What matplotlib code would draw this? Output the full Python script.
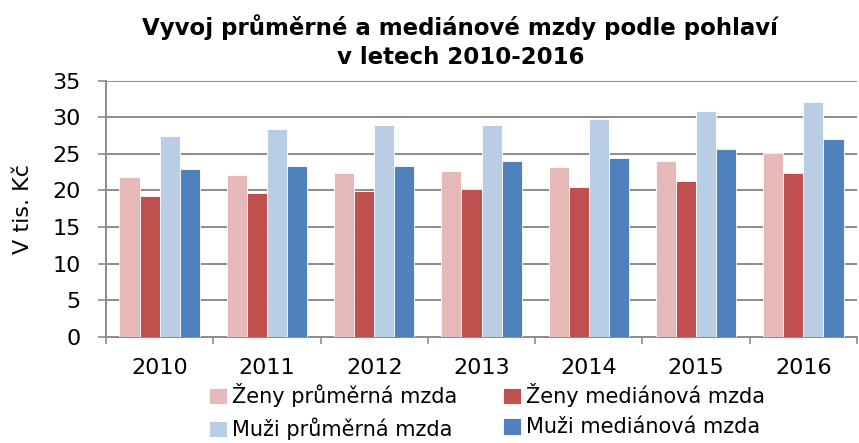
import numpy as np
import matplotlib.pyplot as plt

plt.rcParams['font.family'] = ['DejaVu Sans']

years = ['2010', '2011', '2012', '2013', '2014', '2015', '2016']
zeny_prumer = [21.8, 22.1, 22.4, 22.6, 23.2, 24.0, 25.1]
zeny_median = [19.3, 19.6, 19.9, 20.2, 20.5, 21.3, 22.4]
muzi_prumer = [27.5, 28.4, 28.9, 28.9, 29.7, 30.8, 32.1]
muzi_median = [22.9, 23.4, 23.4, 24.0, 24.5, 25.6, 27.0]

series = [
    ('Ženy průměrná mzda', zeny_prumer, '#E6B9B8'),
    ('Ženy mediánová mzda', zeny_median, '#C0504D'),
    ('Muži průměrná mzda', muzi_prumer, '#B9CDE5'),
    ('Muži mediánová mzda', muzi_median, '#4F81BD'),
]

fig = plt.figure(figsize=(8.59, 4.43), dpi=100)
ax = fig.add_axes([106 / 859, 1 - 336.7 / 443, (857 - 106) / 859, (336.7 - 80.7) / 443])

x = np.arange(len(years))
w = 0.1875
bars = []
for i, (name, vals, col) in enumerate(series):
    b = ax.bar(x + (i - 1.5) * w, vals, w, color=col, edgecolor='white', linewidth=0.6,
               label=name, zorder=3)
    bars.append(b)

ax.set_xlim(-0.5, len(years) - 0.5)
ax.set_ylim(0, 35)
ax.set_yticks(range(0, 36, 5))
ax.yaxis.grid(True, color='#8c8c8c', linewidth=1.4, zorder=0)
ax.set_xticks(x)
ax.set_xticklabels(years)
ax.set_xticks(np.arange(-0.5, len(years), 1), minor=True)
ax.tick_params(axis='x', which='major', length=0, labelsize=16, pad=15)
ax.tick_params(axis='x', which='minor', length=5, color='#8c8c8c', width=1.2)
ax.tick_params(axis='y', labelsize=16, length=6, color='#8c8c8c', width=1.2, pad=12)
for s in ['top', 'right']:
    ax.spines[s].set_visible(False)
for s in ['left', 'bottom']:
    ax.spines[s].set_color('#8c8c8c')
    ax.spines[s].set_linewidth(1.4)
ax.set_ylabel('V tis. Kč', fontsize=16, labelpad=14)

fig.text(0.536, 0.906, 'Vyvoj průměrné a mediánové mzdy podle pohlaví\nv letech 2010-2016',
         ha='center', va='center', fontsize=16.5, fontweight='bold', linespacing=1.3)

order = [0, 2, 1, 3]
fig.legend([bars[i] for i in order], [series[i][0] for i in order],
           loc='center', bbox_to_anchor=(0.567, 0.071), ncol=2, frameon=False,
           fontsize=15, handlelength=0.85, handleheight=0.85, handletextpad=0.25,
           columnspacing=2.2, labelspacing=0.5)

fig.savefig('out.png', dpi=100)
